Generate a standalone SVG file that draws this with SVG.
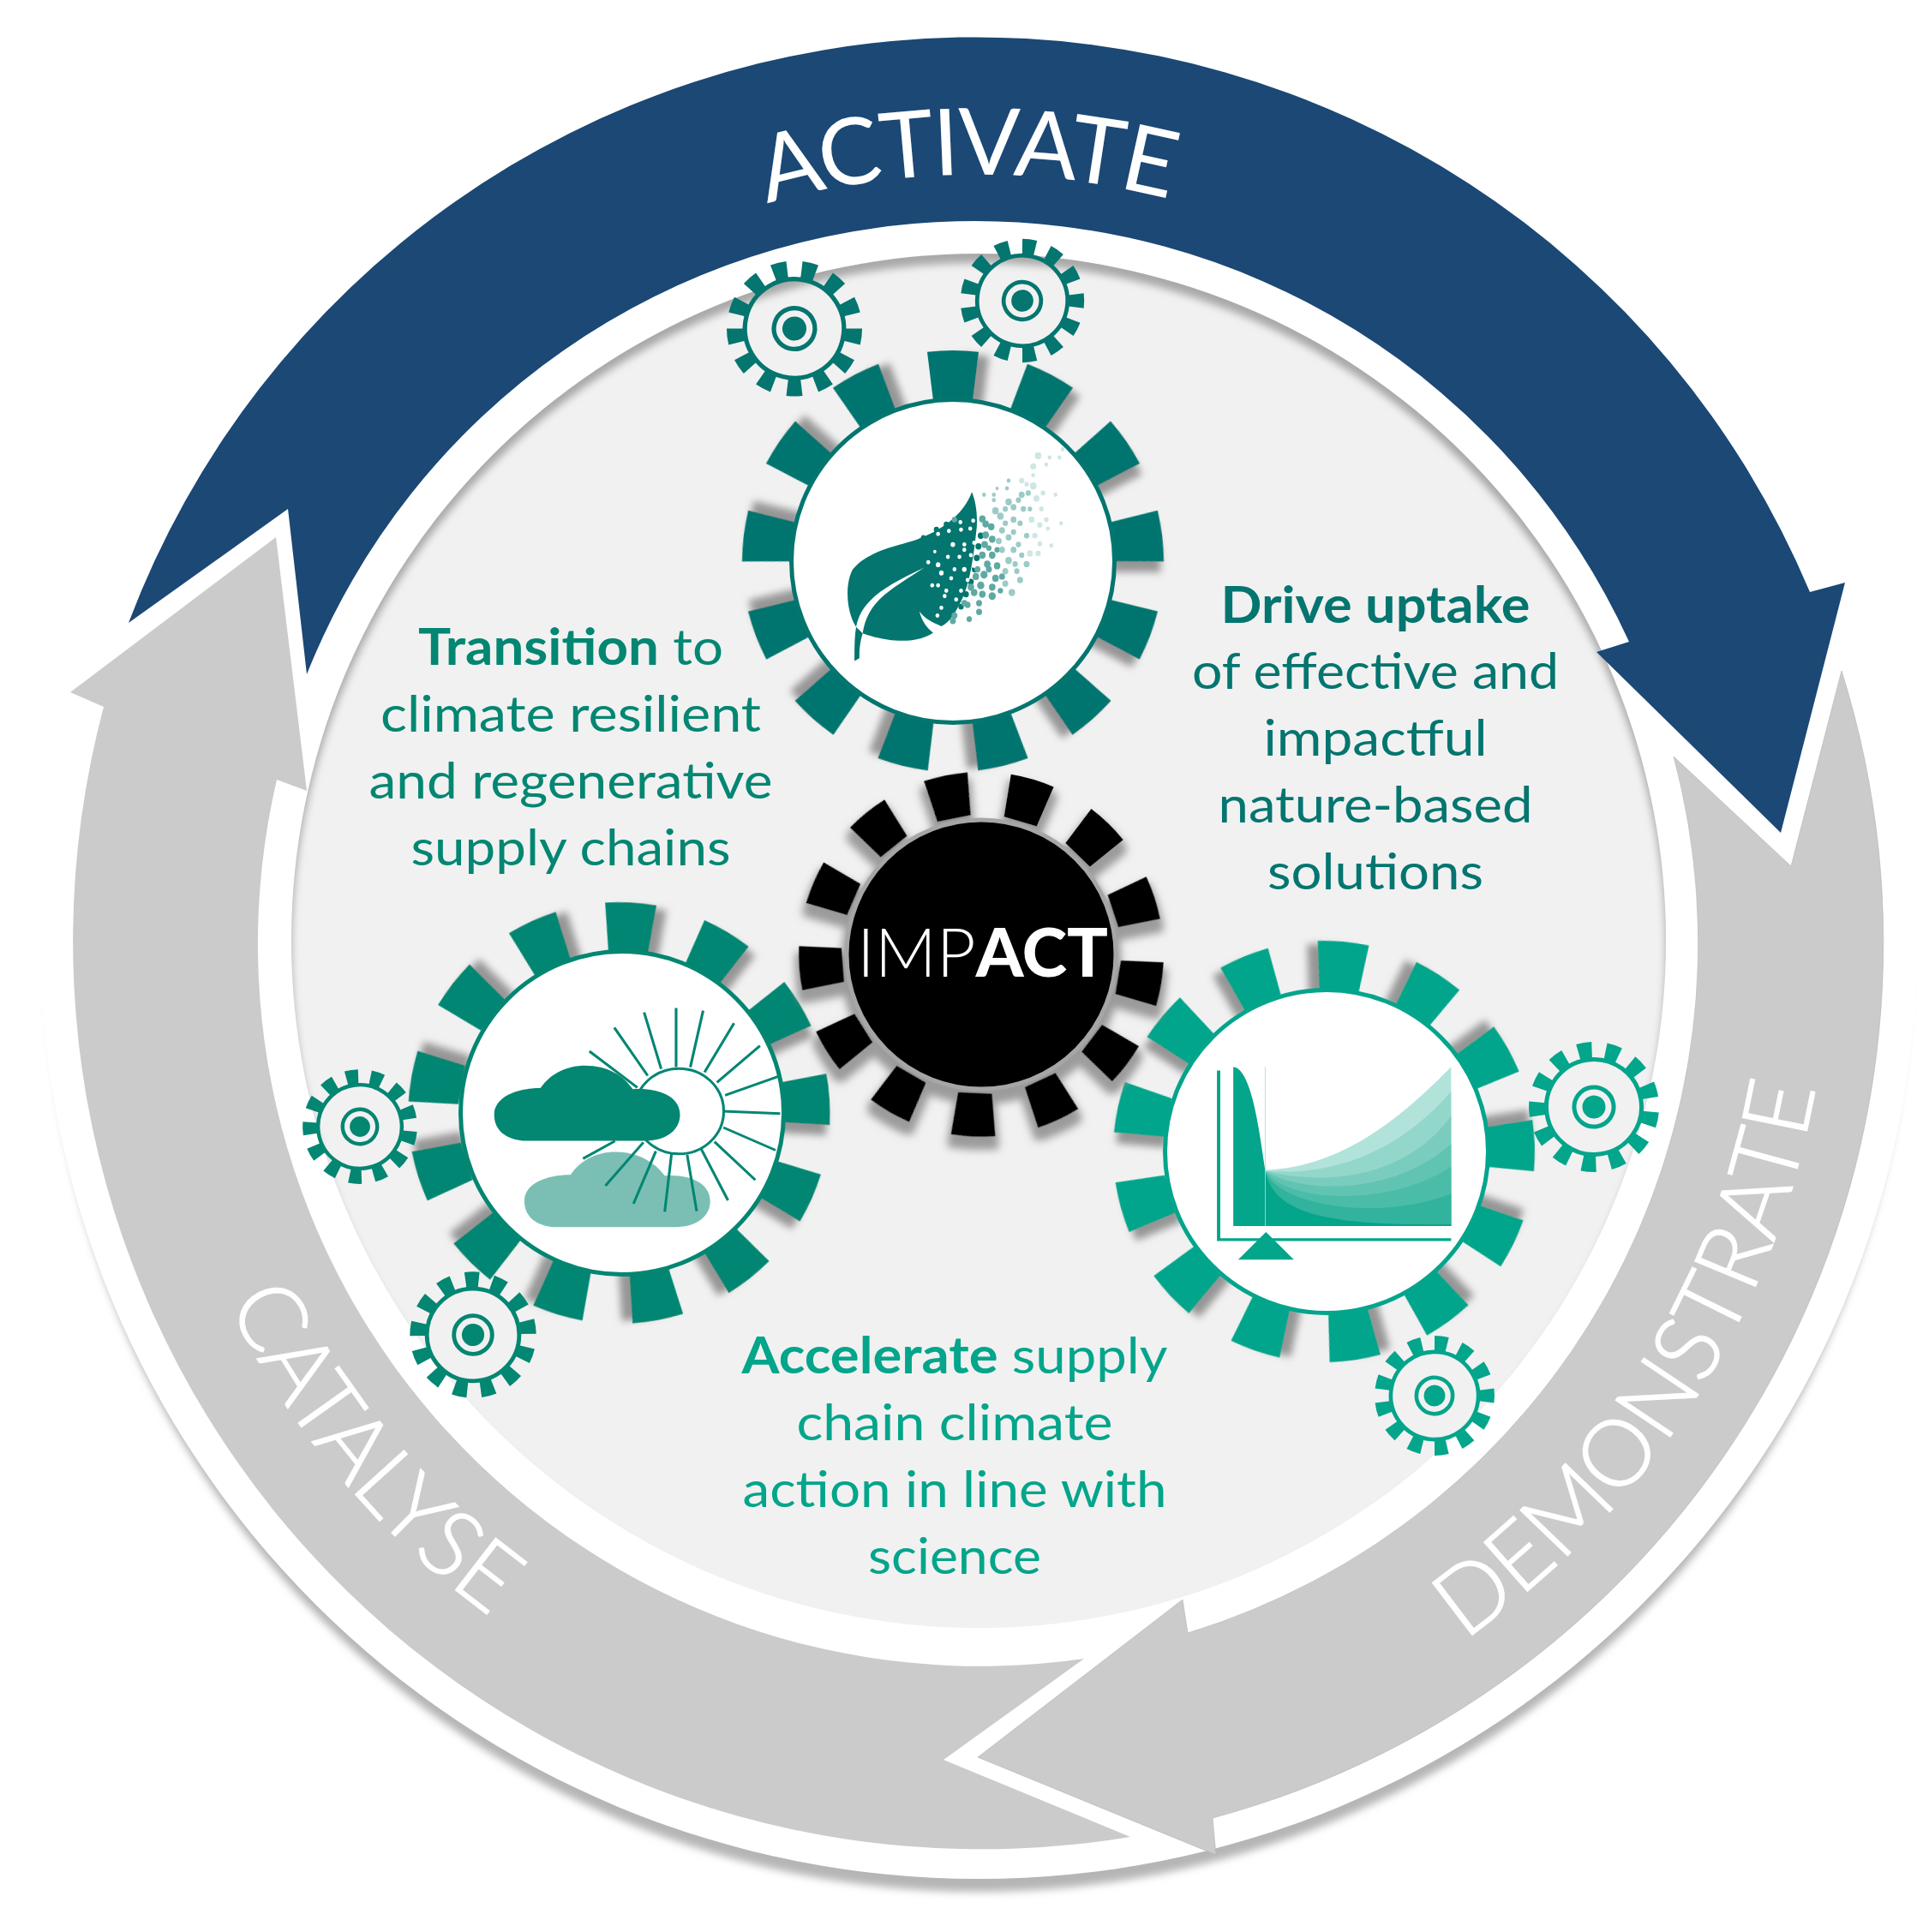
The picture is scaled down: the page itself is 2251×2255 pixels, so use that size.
<svg xmlns="http://www.w3.org/2000/svg" xmlns:xlink="http://www.w3.org/1999/xlink" width="2251" height="2255" viewBox="0 0 2251 2255">
<style>
text{font-family:"Lato","Carlito","Liberation Sans",sans-serif}
.body{font-size:59px;text-anchor:middle}
.b{font-weight:700}
.lab{font-size:108px;font-weight:300;fill:#fff;stroke:#fff;stroke-width:1.5px;text-anchor:middle}
.p0{fill:#04756f}.p1{fill:#5fa9a4}.p2{fill:#9ccbc7}.p3{fill:#cfe6e3}.pw{fill:#fff}
.ray{stroke:#038672;stroke-width:7.5;fill:none}
.c-leaf{color:#04756f;fill:#04756f}
.c-cloud{color:#038672;fill:#038672}
.c-chart{color:#03a58b;fill:#03a58b}
</style>
<defs>
<filter id="shR" x="-50%" y="-50%" width="200%" height="200%"><feGaussianBlur in="SourceAlpha" stdDeviation="4.5" result="b"/><feOffset in="b" dx="12" dy="5" result="o"/><feFlood flood-color="#8c8c8c" flood-opacity=".9"/><feComposite in2="o" operator="in" result="s"/><feMerge><feMergeNode in="s"/><feMergeNode in="SourceGraphic"/></feMerge></filter>
<filter id="shL" x="-50%" y="-50%" width="200%" height="200%"><feGaussianBlur in="SourceAlpha" stdDeviation="4.5" result="b"/><feOffset in="b" dx="-12" dy="5" result="o"/><feFlood flood-color="#8c8c8c" flood-opacity=".9"/><feComposite in2="o" operator="in" result="s"/><feMerge><feMergeNode in="s"/><feMergeNode in="SourceGraphic"/></feMerge></filter>
<filter id="shI" x="-15%" y="-15%" width="130%" height="130%"><feMorphology in="SourceAlpha" operator="dilate" radius="4" result="d"/><feGaussianBlur in="d" stdDeviation="5" result="b"/><feOffset in="b" dx="0" dy="11" result="o"/><feFlood flood-color="#8c8c8c" flood-opacity=".85"/><feComposite in2="o" operator="in" result="s"/><feMerge><feMergeNode in="s"/><feMergeNode in="SourceGraphic"/></feMerge></filter>
<filter id="bl" x="-5%" y="-5%" width="110%" height="110%"><feGaussianBlur stdDeviation="5"/></filter>
<clipPath id="cg"><circle cx="1142" cy="1098" r="802"/></clipPath>
<path id="t" d="M-22.9 -186.6L-30 -244.2A246 246 0 0 1 30 -244.2L22.9 -186.6Z"/>
<path id="ti" d="M-19.9 -161.8L-26 -211.4A213 213 0 0 1 26 -211.4L19.9 -161.8Z"/>
<path id="ts" d="M-6.85 -56.6L-9.13 -75.45A76 76 0 0 1 9.13 -75.45L6.85 -56.6Z"/>
<g id="teethR">
<use href="#t" filter="url(#shR)"/><use href="#t" transform="rotate(27.692)" filter="url(#shR)"/><use href="#t" transform="rotate(55.385)" filter="url(#shR)"/><use href="#t" transform="rotate(83.077)" filter="url(#shR)"/><use href="#t" transform="rotate(110.769)" filter="url(#shR)"/><use href="#t" transform="rotate(138.462)" filter="url(#shR)"/><use href="#t" transform="rotate(166.154)" filter="url(#shR)"/><use href="#t" transform="rotate(193.846)" filter="url(#shR)"/><use href="#t" transform="rotate(221.538)" filter="url(#shR)"/><use href="#t" transform="rotate(249.231)" filter="url(#shR)"/><use href="#t" transform="rotate(276.923)" filter="url(#shR)"/><use href="#t" transform="rotate(304.615)" filter="url(#shR)"/><use href="#t" transform="rotate(332.308)" filter="url(#shR)"/>
</g>
<g id="teethL">
<use href="#t" filter="url(#shL)"/><use href="#t" transform="rotate(27.692)" filter="url(#shL)"/><use href="#t" transform="rotate(55.385)" filter="url(#shL)"/><use href="#t" transform="rotate(83.077)" filter="url(#shL)"/><use href="#t" transform="rotate(110.769)" filter="url(#shL)"/><use href="#t" transform="rotate(138.462)" filter="url(#shL)"/><use href="#t" transform="rotate(166.154)" filter="url(#shL)"/><use href="#t" transform="rotate(193.846)" filter="url(#shL)"/><use href="#t" transform="rotate(221.538)" filter="url(#shL)"/><use href="#t" transform="rotate(249.231)" filter="url(#shL)"/><use href="#t" transform="rotate(276.923)" filter="url(#shL)"/><use href="#t" transform="rotate(304.615)" filter="url(#shL)"/><use href="#t" transform="rotate(332.308)" filter="url(#shL)"/>
</g>
<g id="teethI">
<use href="#ti"/><use href="#ti" transform="rotate(27.692)"/><use href="#ti" transform="rotate(55.385)"/><use href="#ti" transform="rotate(83.077)"/><use href="#ti" transform="rotate(110.769)"/><use href="#ti" transform="rotate(138.462)"/><use href="#ti" transform="rotate(166.154)"/><use href="#ti" transform="rotate(193.846)"/><use href="#ti" transform="rotate(221.538)"/><use href="#ti" transform="rotate(249.231)"/><use href="#ti" transform="rotate(276.923)"/><use href="#ti" transform="rotate(304.615)"/><use href="#ti" transform="rotate(332.308)"/>
</g>
<g id="sg">
<use href="#ts"/><use href="#ts" transform="rotate(27.692)"/><use href="#ts" transform="rotate(55.385)"/><use href="#ts" transform="rotate(83.077)"/><use href="#ts" transform="rotate(110.769)"/><use href="#ts" transform="rotate(138.462)"/><use href="#ts" transform="rotate(166.154)"/><use href="#ts" transform="rotate(193.846)"/><use href="#ts" transform="rotate(221.538)"/><use href="#ts" transform="rotate(249.231)"/><use href="#ts" transform="rotate(276.923)"/><use href="#ts" transform="rotate(304.615)"/><use href="#ts" transform="rotate(332.308)"/>
<circle r="55.5" fill="none" stroke="currentColor" stroke-width="5"/>
<circle r="23" fill="none" stroke="currentColor" stroke-width="5"/>
<circle r="13.5"/>
</g>
<path id="pA" d="M358 662A896 896 0 0 1 1910 642"/>
<path id="pD" d="M1270.5 2084.4A993 993 0 0 0 2086.8 800.6"/>
<path id="pC" d="M184.7 931.6A970 970 0 0 0 1137.5 2070"/>
</defs>
<rect width="2251" height="2255" fill="#fff"/>
<circle cx="1142" cy="1123" r="1085" fill="#b5b5b5" filter="url(#bl)"/>
<circle id="base" cx="1142" cy="1098" r="1095" fill="#fff"/>
<circle cx="1142" cy="1098" r="802" fill="#f1f1f1"/>
<g clip-path="url(#cg)"><circle cx="1142" cy="1109" r="812" fill="none" stroke="#a8a8a8" stroke-width="20" filter="url(#bl)"/></g>

<g id="connectors">
<path id="catalyse-arrow" fill="#cbcbcb" d="M82 808L322 627L358 923L323 910A843 843 0 0 0 1265 1936L1101 2054L1319 2144A1060 1060 0 0 1 121 825Z"/>
<path id="demonstrate-arrow" fill="#cbcbcb" stroke="#aab3b8" stroke-width=".6" d="M1141 2051L1380 1867L1386 1906A842 842 0 0 0 1953 883L2090 1011L2149 783A1058 1058 0 0 1 1415 2122L1419 2165Z"/>
<path id="activate-arrow" fill="#1b4875" d="M150 727L336 594L358 787A839 839 0 0 1 1901 749L1863 761L2078 972L2153 680L2112 691A1056 1056 0 0 0 150 727Z"/>
<text class="lab" letter-spacing="-3" style="font-weight:400;stroke-width:0"><textPath href="#pA" startOffset="50%">ACTIVATE</textPath></text>
<text class="lab"><textPath href="#pD" startOffset="50%">DEMONSTRATE</textPath></text>
<text class="lab" letter-spacing="-1"><textPath href="#pC" startOffset="50%">CATALYSE</textPath></text>
</g>

<g id="gear-cloud" class="c-cloud">
<use href="#teethR" transform="translate(722.5 1299) rotate(3.2)"/>
<circle cx="726" cy="1299" r="188.5" fill="#fff" stroke="#038672" stroke-width="5"/>
<g transform="translate(330 1040) scale(.4146 .3954)">
<path fill="#7bbfb4" d="M760 992C700 985 680 950 680 915C680 865 740 838 810 838C840 790 890 770 935 770C1000 770 1045 800 1075 840C1150 835 1203 865 1203 915C1203 960 1165 992 1105 992Z"/>
<g class="ray">
<path d="M1107 345V520M1017 358L1065 525M933 403L1027 545M863 473L998 580M1183 353L1147 520M1270 390L1187 535M1343 457L1222 565M1395 547L1245 603M1400 657L1238 650M1387 765L1240 698M1330 853L1215 740M1253 913L1178 762M1165 945L1138 778M1075 947L1095 768M987 923L1050 768M908 870L1015 742M845 790L935 738"/>
<circle cx="1115" cy="650" r="126" fill="#fff"/>
</g>
<path d="M675 737C615 730 595 695 595 660C595 610 655 582 725 582C755 535 805 515 850 515C915 515 960 545 985 585C1065 580 1118 610 1118 660C1118 705 1080 737 1020 737Z"/>
</g>
</g>

<g id="gear-chart" class="c-chart">
<use href="#teethL" transform="translate(1545 1344) rotate(5.3)"/>
<circle cx="1548" cy="1344" r="188.5" fill="#fff" stroke="#03a58b" stroke-width="5"/>
<g transform="translate(1280 1080) scale(.4337 .4082)">
<path d="M323 415H332V895H953V903H323Z"/>
<path d="M367 405C420 410 440 620 453 700V860H367Z"/>
<path fill="#b2e3da" d="M453 700C650 690 800 570 953 405V860H453Z"/>
<path fill="#93d7cb" d="M453 702C640 720 820 640 953 475V860H453Z"/>
<path fill="#7acdbe" d="M453 703C640 750 840 710 953 545V860H453Z"/>
<path fill="#61c4b2" d="M453 703C560 770 800 770 953 625V860H453Z"/>
<path fill="#4bbca8" d="M453 703C510 790 780 810 953 690V860H453Z"/>
<path fill="#31b39d" d="M453 703C490 800 750 850 953 768V860H453Z"/>
<path d="M453 705C480 820 600 860 953 855V860H453Z"/>
<path d="M453 405V860" stroke="#a8dfd4" stroke-width="2"/>
<path d="M455 877L380 956H530Z"/>
</g>
</g>

<g id="gear-leaf" class="c-leaf">
<use href="#teethR" transform="translate(1112 655)"/>
<circle cx="1112" cy="655" r="188.5" fill="#fff" stroke="#04756f" stroke-width="5"/>
<g transform="translate(800 250) scale(.3827 .4146)">
<path d="M873 782C885 810 890 840 888 880C880 950 870 1030 845 1080C825 1120 805 1150 780 1160C755 1150 730 1140 713 1118C720 1145 735 1165 755 1178C720 1200 650 1215 540 1180C530 1210 530 1235 530 1250L515 1258C515 1220 515 1190 520 1162C490 1120 485 1040 510 1000C560 940 680 930 720 910C790 885 850 840 873 782Z"/>
<path fill="#fff" d="M520 1162C535 1090 600 1050 728 995C620 1060 555 1090 540 1180Z"/>
<g class="p0"><circle cx="900" cy="905" r="9"/><circle cx="893" cy="935" r="9"/><circle cx="888" cy="968" r="9"/><circle cx="882" cy="1000" r="9"/><circle cx="870" cy="1035" r="9"/><circle cx="855" cy="1070" r="9"/><circle cx="840" cy="1105" r="8"/><circle cx="725" cy="910" r="7"/><circle cx="765" cy="888" r="8"/><circle cx="795" cy="873" r="8"/></g>
<g class="p1"><circle cx="820" cy="860" r="8"/><circle cx="905" cy="858" r="10"/><circle cx="915" cy="872" r="10"/><circle cx="932" cy="880" r="10"/><circle cx="915" cy="903" r="10"/><circle cx="935" cy="915" r="10"/><circle cx="912" cy="930" r="10"/><circle cx="935" cy="960" r="10"/><circle cx="905" cy="960" r="10"/><circle cx="950" cy="990" r="10"/><circle cx="920" cy="985" r="10"/><circle cx="945" cy="1025" r="10"/><circle cx="910" cy="1015" r="11"/><circle cx="885" cy="1020" r="10"/><circle cx="935" cy="1050" r="10"/><circle cx="900" cy="1045" r="11"/><circle cx="870" cy="1050" r="10"/><circle cx="935" cy="1075" r="11"/><circle cx="905" cy="1070" r="10"/><circle cx="880" cy="1065" r="10"/><circle cx="895" cy="1095" r="9"/><circle cx="895" cy="1120" r="9"/><circle cx="860" cy="1100" r="9"/><circle cx="865" cy="1140" r="8"/><circle cx="820" cy="1130" r="9"/><circle cx="815" cy="1145" r="9"/><circle cx="850" cy="1095" r="9"/><circle cx="925" cy="1000" r="9"/><circle cx="890" cy="1000" r="9"/><circle cx="925" cy="940" r="8"/><circle cx="950" cy="945" r="8"/><circle cx="965" cy="1020" r="9"/><circle cx="960" cy="1060" r="8"/></g>
<g class="p2"><circle cx="945" cy="835" r="10"/><circle cx="960" cy="850" r="10"/><circle cx="985" cy="810" r="10"/><circle cx="1025" cy="790" r="9"/><circle cx="1000" cy="825" r="9"/><circle cx="1000" cy="860" r="9"/><circle cx="1030" cy="830" r="8"/><circle cx="965" cy="890" r="9"/><circle cx="1000" cy="895" r="8"/><circle cx="1040" cy="905" r="8"/><circle cx="985" cy="910" r="9"/><circle cx="955" cy="920" r="9"/><circle cx="1015" cy="930" r="8"/><circle cx="1000" cy="945" r="9"/><circle cx="965" cy="945" r="9"/><circle cx="985" cy="975" r="10"/><circle cx="1040" cy="985" r="9"/><circle cx="1010" cy="1005" r="8"/><circle cx="975" cy="1005" r="9"/><circle cx="1020" cy="1030" r="9"/><circle cx="975" cy="1040" r="9"/><circle cx="995" cy="1065" r="10"/><circle cx="985" cy="750" r="6"/><circle cx="950" cy="772" r="5"/><circle cx="980" cy="772" r="6"/><circle cx="910" cy="790" r="6"/><circle cx="940" cy="790" r="6"/><circle cx="940" cy="805" r="6"/><circle cx="975" cy="830" r="8"/><circle cx="1015" cy="805" r="8"/><circle cx="1050" cy="830" r="7"/><circle cx="1020" cy="870" r="8"/><circle cx="1025" cy="960" r="8"/><circle cx="1005" cy="985" r="8"/><circle cx="975" cy="870" r="8"/><circle cx="1045" cy="785" r="8"/></g>
<g class="p3"><circle cx="1060" cy="765" r="10"/><circle cx="1075" cy="680" r="10"/><circle cx="1060" cy="710" r="9"/><circle cx="1100" cy="705" r="6"/><circle cx="1140" cy="685" r="6"/><circle cx="1150" cy="662" r="6"/><circle cx="1110" cy="685" r="6"/><circle cx="1025" cy="750" r="8"/><circle cx="1128" cy="790" r="6"/><circle cx="1090" cy="785" r="7"/><circle cx="1070" cy="800" r="9"/><circle cx="1055" cy="860" r="9"/><circle cx="1100" cy="860" r="7"/><circle cx="1145" cy="870" r="6"/><circle cx="1105" cy="885" r="6"/><circle cx="1065" cy="905" r="8"/><circle cx="1080" cy="928" r="7"/><circle cx="1115" cy="933" r="6"/><circle cx="1050" cy="955" r="9"/><circle cx="1075" cy="955" r="8"/><circle cx="1080" cy="875" r="8"/><circle cx="1060" cy="735" r="6"/><circle cx="1085" cy="830" r="7"/><circle cx="1040" cy="760" r="7"/></g>
<g class="pw"><circle cx="770" cy="900" r="6"/><circle cx="803" cy="892" r="6"/><circle cx="838" cy="867" r="6"/><circle cx="877" cy="863" r="6"/><circle cx="868" cy="885" r="6"/><circle cx="840" cy="888" r="6"/><circle cx="815" cy="930" r="7"/><circle cx="850" cy="930" r="6"/><circle cx="880" cy="925" r="6"/><circle cx="800" cy="965" r="6"/><circle cx="835" cy="965" r="6"/><circle cx="870" cy="960" r="6"/><circle cx="770" cy="987" r="7"/><circle cx="820" cy="1000" r="6"/><circle cx="850" cy="1000" r="7"/><circle cx="880" cy="990" r="6"/><circle cx="780" cy="1010" r="7"/><circle cx="810" cy="1025" r="6"/><circle cx="752" cy="1045" r="6"/><circle cx="770" cy="1045" r="6"/><circle cx="795" cy="1060" r="6"/><circle cx="825" cy="1085" r="6"/><circle cx="780" cy="1108" r="6"/><circle cx="768" cy="1130" r="6"/><circle cx="740" cy="980" r="6"/><circle cx="790" cy="1075" r="6"/><circle cx="850" cy="945" r="6"/><circle cx="760" cy="950" r="5"/><circle cx="860" cy="1030" r="6"/><circle cx="840" cy="1060" r="6"/></g>
</g>
</g>

<g id="gear-impact">
<g filter="url(#shI)">
<use href="#teethI" transform="translate(1145 1114) rotate(16.4)" fill="#000"/>
<circle cx="1145" cy="1114" r="157" fill="#000" stroke="#a6a6a6" stroke-width="5"/>
</g>
<text x="1000" y="1140" font-size="79" fill="#fff" textLength="293" lengthAdjust="spacingAndGlyphs"><tspan font-weight="300">IMP</tspan><tspan font-weight="900">ACT</tspan></text>
</g>

<g id="cog-a" class="c-leaf"><use href="#sg" transform="translate(927 383.5) rotate(13.85) scale(1.04)"/></g>
<g id="cog-b" class="c-leaf"><use href="#sg" transform="translate(1193 351) rotate(6.93) scale(.95)"/></g>
<g id="cog-c" class="c-cloud"><use href="#sg" transform="translate(420 1315) rotate(-8.8) scale(.88)"/></g>
<g id="cog-d" class="c-cloud"><use href="#sg" transform="translate(552 1558) rotate(-1) scale(.97)"/></g>
<g id="cog-e" class="c-chart"><use href="#sg" transform="translate(1860 1292) rotate(-9) scale(1)"/></g>
<g id="cog-f" class="c-chart"><use href="#sg" transform="translate(1674 1629) rotate(6.93) scale(.92)"/></g>

<g id="text-transition" fill="#038672">
<text class="body" x="666" y="776" textLength="356" lengthAdjust="spacingAndGlyphs"><tspan class="b">Transition</tspan> to</text>
<text class="body" x="666" y="854" textLength="444" lengthAdjust="spacingAndGlyphs">climate resilient</text>
<text class="body" x="666" y="932" textLength="471" lengthAdjust="spacingAndGlyphs">and regenerative</text>
<text class="body" x="666" y="1010" textLength="373" lengthAdjust="spacingAndGlyphs">supply chains</text>
</g>
<g id="text-drive" fill="#04756f">
<text class="body" x="1605" y="727" textLength="361" lengthAdjust="spacingAndGlyphs"><tspan class="b">Drive uptake</tspan></text>
<text class="body" x="1605" y="804" textLength="428" lengthAdjust="spacingAndGlyphs">of effective and</text>
<text class="body" x="1605" y="882" textLength="261" lengthAdjust="spacingAndGlyphs">impactful</text>
<text class="body" x="1605" y="960" textLength="367" lengthAdjust="spacingAndGlyphs">nature-based</text>
<text class="body" x="1605" y="1038" textLength="252" lengthAdjust="spacingAndGlyphs">solutions</text>
</g>
<g id="text-accelerate" fill="#03a58b">
<text class="body" x="1114" y="1603" textLength="497" lengthAdjust="spacingAndGlyphs"><tspan class="b">Accelerate</tspan> supply</text>
<text class="body" x="1114" y="1681" textLength="369" lengthAdjust="spacingAndGlyphs">chain climate</text>
<text class="body" x="1114" y="1759" textLength="495" lengthAdjust="spacingAndGlyphs">action in line with</text>
<text class="body" x="1114" y="1837" textLength="202" lengthAdjust="spacingAndGlyphs">science</text>
</g>
</svg>
